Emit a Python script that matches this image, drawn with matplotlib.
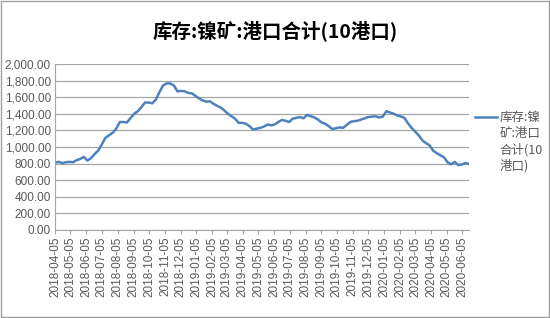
import matplotlib
matplotlib.use("Agg")
import matplotlib.pyplot as plt
import matplotlib.dates as mdates
from matplotlib.patches import Rectangle
from matplotlib.lines import Line2D
import pandas as pd

# 周度数据:库存:镍矿:港口合计(10港口), 单位万吨
start_date = "2018-04-05"
end_date = "2020-06-18"
stock = [
    810, 820, 805, 815, 820, 815, 840, 855, 880, 835,
    865, 915, 955, 1030, 1110, 1140, 1170, 1220, 1300, 1300,
    1295, 1350, 1400, 1430, 1480, 1535, 1535, 1525, 1570, 1660,
    1740, 1765, 1765, 1740, 1670, 1675, 1670, 1650, 1645, 1615,
    1585, 1560, 1545, 1550, 1520, 1495, 1475, 1440, 1400, 1370,
    1340, 1290, 1290, 1280, 1250, 1210, 1220, 1230, 1245, 1270,
    1260, 1270, 1300, 1325, 1315, 1300, 1340, 1350, 1360, 1345,
    1385, 1370, 1355, 1330, 1295, 1280, 1250, 1215, 1225, 1235,
    1230, 1265, 1300, 1310, 1315, 1330, 1345, 1360, 1365, 1370,
    1355, 1365, 1430, 1415, 1400, 1380, 1368, 1350, 1285, 1230,
    1185, 1140, 1080, 1045, 1020, 955, 925, 900, 875, 815,
    790, 820, 780, 790, 805, 795,
]
title = "库存:镍矿:港口合计(10港口)"
legend_label = "库存:镍\n矿:港口\n合计(10\n港口)"
y_ticks = [0, 200, 400, 600, 800, 1000, 1200, 1400, 1600, 1800, 2000]

dates = pd.date_range(start_date, end_date, freq="7D")
month_ticks = pd.date_range("2018-04-05", periods=27, freq=pd.DateOffset(months=1))

plt.rcParams['font.family'] = ['Liberation Sans', 'Noto Sans CJK SC', 'DejaVu Sans']
grey_text = "#595959"
line_color = "#4F81BD"

fig = plt.figure(figsize=(5.5, 3.18), dpi=100)
ax = fig.add_axes([0.1, 0.277, 0.753, 0.522])

ax.plot(dates, stock, color=line_color, lw=1.8)

ax.set_ylim(0, 2000)
ax.set_yticks(y_ticks)
ax.set_yticklabels([f"{v:,.2f}" for v in y_ticks], fontsize=8.5, color=grey_text)
ax.yaxis.grid(True, color="#a6a6a6", lw=0.9)
ax.set_axisbelow(True)

ax.set_xlim(dates[0], dates[-1])
ax.set_xticks(month_ticks)
ax.xaxis.set_major_formatter(mdates.DateFormatter("%Y-%m-%d"))
for lab in ax.get_xticklabels():
    lab.set_rotation(90)
    lab.set_fontsize(8.5)
    lab.set_color(grey_text)

ax.tick_params(axis="y", length=0, pad=3)
ax.tick_params(axis="x", length=3, color="#a6a6a6", pad=2)
for side in ["top", "right"]:
    ax.spines[side].set_visible(False)
ax.spines["left"].set_color("#a6a6a6")
ax.spines["bottom"].set_color("#a6a6a6")

fig.text(0.5, 0.905, title, ha="center", va="center", fontsize=14,
         fontweight="bold", family=["Noto Sans CJK SC", "DejaVu Sans"], color="#000000")

# 图例:线段与第一行文字对齐
leg_y = 1 - 117 / 318
fig.add_artist(Line2D([475 / 550, 497 / 550], [leg_y, leg_y], color=line_color, lw=1.8))
fig.text(500 / 550, leg_y + 0.02, legend_label, ha="left", va="top", fontsize=9,
         color=grey_text, linespacing=1.3, family=["Noto Sans CJK SC", "DejaVu Sans"])

fig.patches.append(Rectangle((0.002, 0.003), 0.996, 0.994, transform=fig.transFigure,
                             fill=False, edgecolor="#a0a0a0", lw=1))

fig.savefig("out.png", dpi=100)
